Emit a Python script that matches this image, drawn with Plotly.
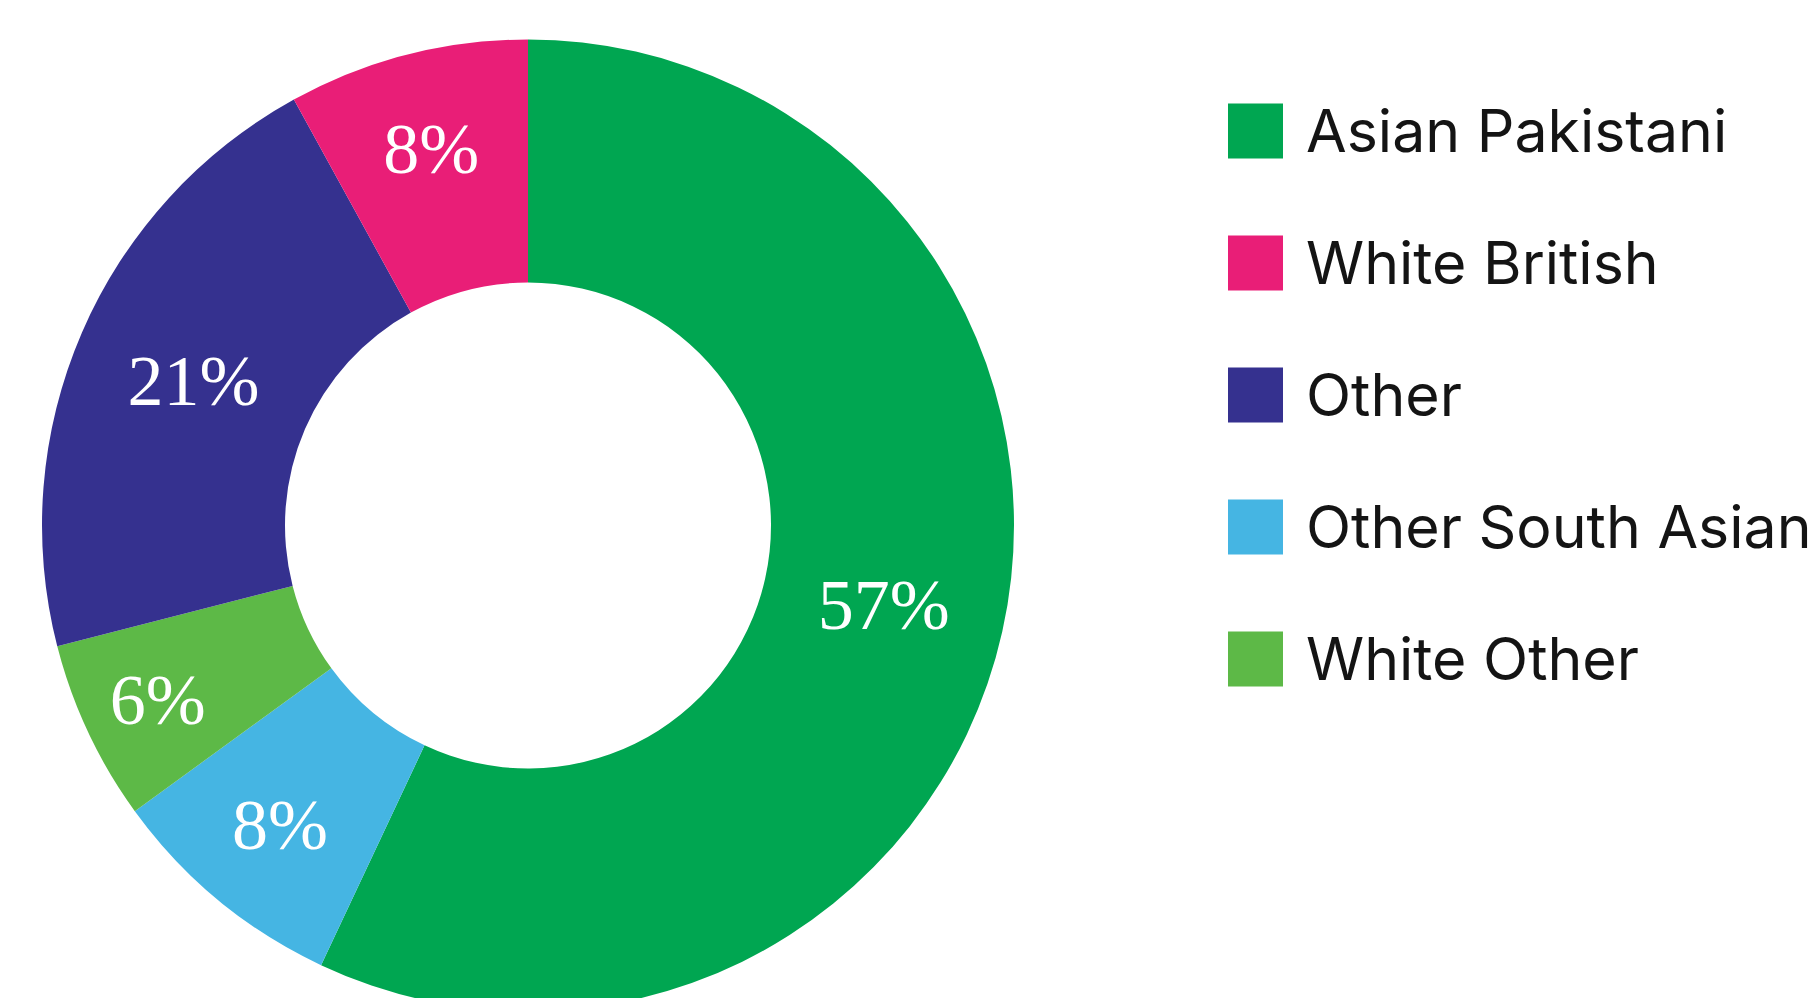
import plotly.graph_objects as go

# Ethnic group breakdown, in percent (slice order, clockwise from 12 o'clock)
groups = ["Asian Pakistani", "Other South Asian", "White Other", "Other", "White British"]
shares = [57, 8, 6, 21, 8]
colours = ["#00A651", "#45B5E3", "#5DB947", "#35318F", "#E91E77"]

# Order of the key on the right
legend_order = ["Asian Pakistani", "White British", "Other", "Other South Asian", "White Other"]

W, H = 1814, 1012
cx, cy, r = 528, 525.5, 486  # donut centre / outer radius in pixels

fig = go.Figure(
    go.Pie(
        labels=groups,
        values=shares,
        sort=False,
        direction="clockwise",
        rotation=0,
        hole=0.5,
        marker=dict(colors=colours, line=dict(width=0)),
        texttemplate="%{value}%",
        textposition="inside",
        insidetextorientation="horizontal",
        textfont=dict(family="Liberation Serif", size=72, color="white"),
        domain=dict(x=[(cx - r) / W, (cx + r) / W], y=[(H - cy - r) / H, (H - cy + r) / H]),
        showlegend=False,
        hoverinfo="label+percent",
    )
)

# Key: coloured squares with labels
colour_of = dict(zip(groups, colours))
row0, row_gap, half = 131, 132, 27.5
for i, name in enumerate(legend_order):
    yc = row0 + row_gap * i
    fig.add_shape(
        type="rect", xref="paper", yref="paper",
        x0=1228 / W, x1=1283 / W,
        y0=1 - (yc - half) / H, y1=1 - (yc + half) / H,
        fillcolor=colour_of[name], line_width=0,
    )
    fig.add_annotation(
        x=1304 / W, y=1 - (yc - 1) / H, xref="paper", yref="paper",
        text=name, showarrow=False, xanchor="left", yanchor="middle",
        font=dict(family="Inter", size=59, color="#141414"),
    )

fig.update_layout(
    width=W, height=H,
    margin=dict(l=0, r=0, t=0, b=0),
    paper_bgcolor="white", plot_bgcolor="white",
)

fig.write_html(
    "out.html",
    post_script="document.body.style.overflow='hidden';document.documentElement.style.overflow='hidden';document.body.style.margin='0';",
)
